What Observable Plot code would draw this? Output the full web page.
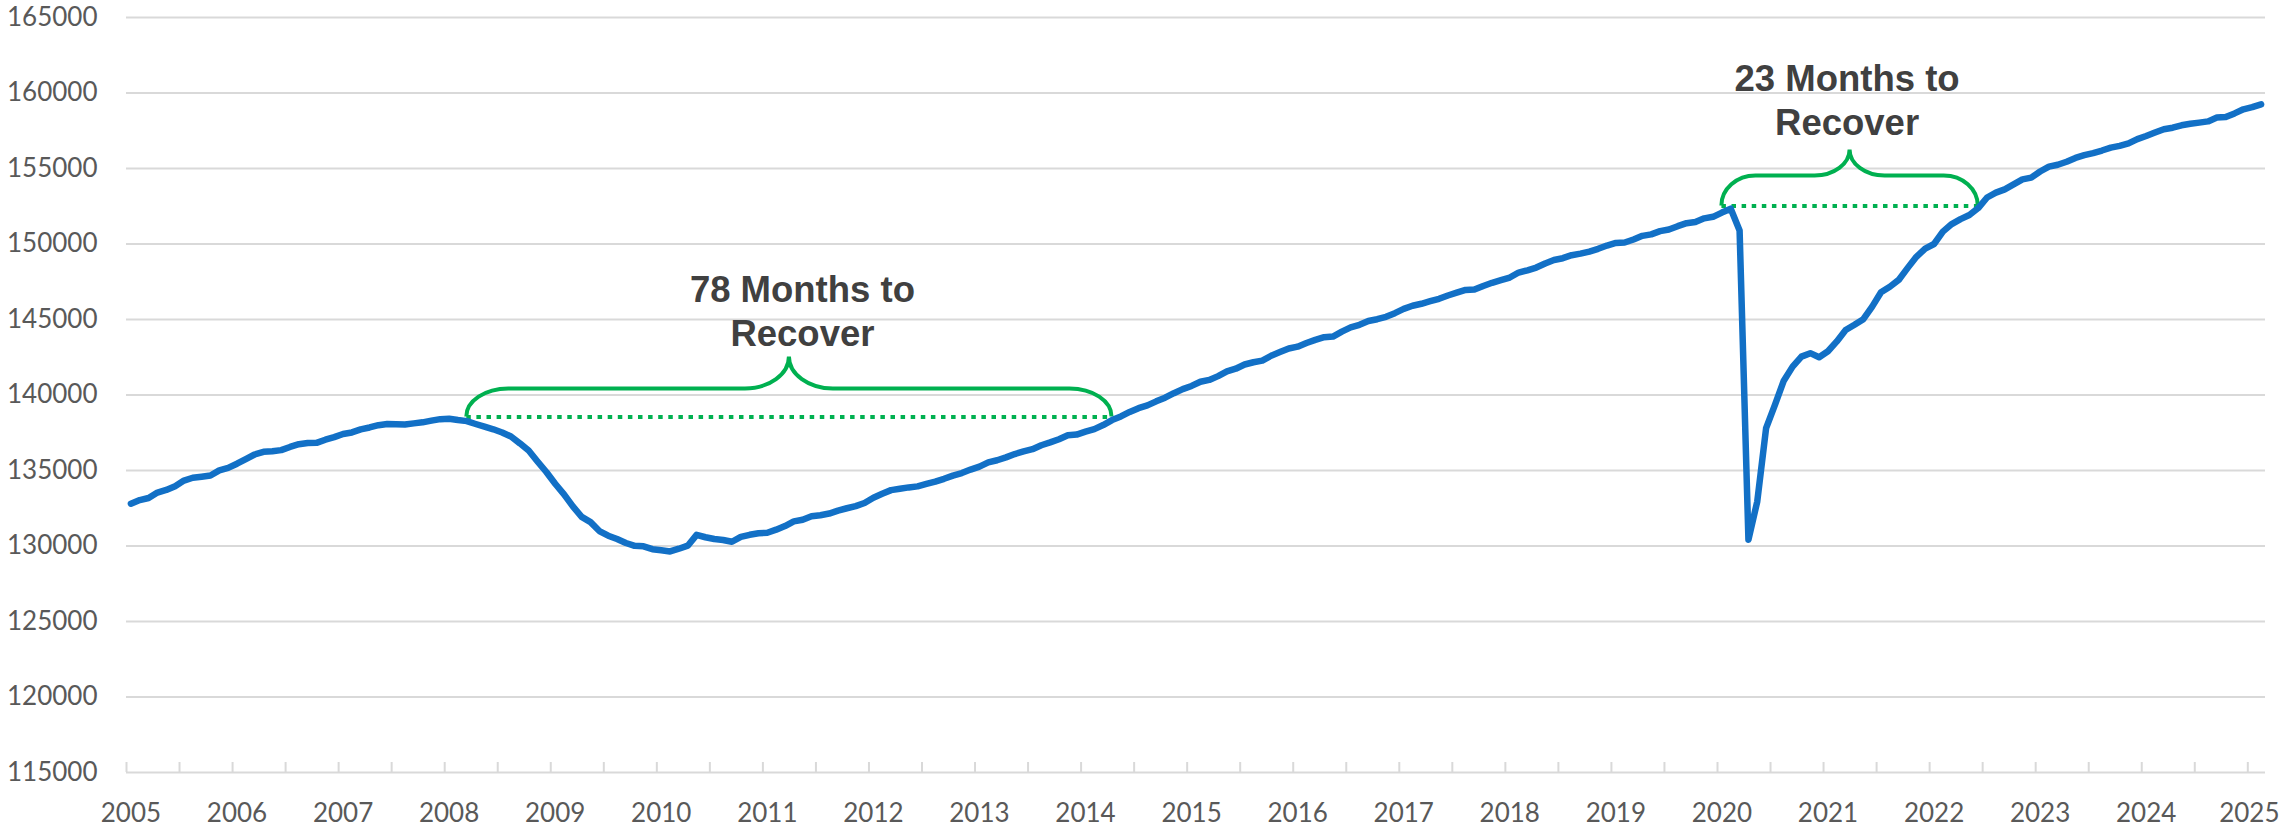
<!DOCTYPE html>
<html>
<head>
<meta charset="utf-8">
<script src="https://cdn.jsdelivr.net/npm/d3@7"></script>
<script src="https://cdn.jsdelivr.net/npm/@observablehq/plot@0.6"></script>
<style>
  html, body { margin: 0; padding: 0; background: #ffffff; }
  #chart svg { display: block; }
</style>
</head>
<body>
<div id="chart"></div>
<script>
// ---------------- DATA ----------------
const startYear = 2005;
const yearLabels = ["2005","2006","2007","2008","2009","2010","2011","2012","2013","2014",
  "2015","2016","2017","2018","2019","2020","2021","2022","2023","2024","2025"];
const yTicks = [115000, 120000, 125000, 130000, 135000, 140000, 145000, 150000, 155000, 160000, 165000];

// Total nonfarm employment (thousands), monthly Jan 2005 – Feb 2025
const employment = [
  132800, 133040, 133180, 133540, 133710, 133960, 134330, 134520, 134590, 134670, 135010, 135170, // 2005
  135450, 135760, 136060, 136240, 136270, 136350, 136560, 136740, 136820, 136830, 137040, 137210, // 2006
  137420, 137520, 137720, 137850, 138000, 138080, 138060, 138050, 138120, 138190, 138300, 138400, // 2007
  138430, 138340, 138270, 138080, 137900, 137730, 137520, 137250, 136800, 136320, 135600, 134900, // 2008
  134120, 133420, 132620, 131930, 131580, 130990, 130680, 130460, 130200, 130010, 129980, 129790, // 2009
  129720, 129640, 129820, 130020, 130740, 130580, 130460, 130400, 130280, 130600, 130740, 130840, // 2010
  130880, 131080, 131320, 131630, 131740, 131970, 132040, 132150, 132340, 132500, 132640, 132850, // 2011
  133200, 133460, 133700, 133790, 133880, 133950, 134110, 134260, 134450, 134660, 134830, 135060, // 2012
  135260, 135540, 135680, 135870, 136090, 136260, 136410, 136670, 136860, 137070, 137330, 137380, // 2013
  137570, 137740, 138010, 138340, 138580, 138880, 139130, 139310, 139580, 139820, 140120, 140390, // 2014
  140600, 140880, 141000, 141250, 141560, 141740, 142020, 142170, 142280, 142600, 142840, 143080, // 2015
  143200, 143440, 143650, 143830, 143870, 144200, 144480, 144650, 144900, 145020, 145180, 145420, // 2016
  145700, 145910, 146040, 146210, 146370, 146590, 146780, 146960, 146980, 147220, 147430, 147600, // 2017
  147780, 148110, 148260, 148440, 148710, 148940, 149060, 149260, 149360, 149500, 149680, 149900, // 2018
  150070, 150100, 150300, 150540, 150640, 150850, 150960, 151180, 151380, 151460, 151700, 151800, // 2019
  152080, 152340, 150900, 130420, 132950, 137800, 139350, 140950, 141880, 142540, 142770, 142500, // 2020
  142900, 143550, 144300, 144650, 145020, 145850, 146800, 147170, 147620, 148400, 149150, 149700, // 2021
  150000, 150820, 151320, 151650, 151920, 152380, 153080, 153400, 153620, 153950, 154280, 154400, // 2022
  154800, 155120, 155250, 155450, 155700, 155880, 156020, 156190, 156380, 156500, 156660, 156950, // 2023
  157150, 157380, 157600, 157700, 157860, 157960, 158040, 158120, 158370, 158410, 158650, 158920, // 2024
  159060, 159250                                                                                  // 2025
];

// Recovery annotations
const recoveryStart = ["2008-03", "2020-01"];
const recoveryEnd   = ["2014-04", "2022-06"];
const recoveryLevel = [138550, 152520];
const recoveryLabel = ["78 Months to\nRecover", "23 Months to\nRecover"];

// ---------------- STYLE ----------------
const BLUE = "#1270C6";
const GREEN = "#00B050";
const GRID = "#d9d9d9";
const AXIS_TEXT = "#595959";
const NOTE_TEXT = "#404040";
// brace shape (pixels): corner radius, corner height, tip radius, tip height, label shift
const braceStyle = [
  {rx: 42, h1: 28, rx2: 44, h2: 32, labelDx: 13},
  {rx: 34, h1: 30, rx2: 35, h2: 26, labelDx: -3}
];

// ---------------- BUILD ----------------
const monthPos = (s) => {
  const [y, m] = s.split("-").map(Number);
  return (y - startYear) * 12 + (m - 1) + 0.5;
};
const nMonths = employment.length;
const series = employment.map((v, i) => ({x: i + 0.5, y: v}));
const recoveries = recoveryStart.map((s, k) => ({
  x1: monthPos(s), x2: monthPos(recoveryEnd[k]), y: recoveryLevel[k], label: recoveryLabel[k], ...braceStyle[k]
}));
const yearTickPos = yearLabels.map((_, k) => k * 12 + 0.5);
const halfYearTicks = d3.range(0, (yearLabels.length - 1) * 12 + 1, 6);

const W = 2280, H = 829, mL = 126, mR = 15, mT = 17, mB = 57;

function braces(index, scales) {
  const sx = scales.x, sy = scales.y;
  const ns = "http://www.w3.org/2000/svg";
  const g = document.createElementNS(ns, "g");
  for (const r of recoveries) {
    const X0 = sx(r.x1), X1 = sx(r.x2), Y = sy(r.y), Xm = (X0 + X1) / 2;
    const Yh = Y - r.h1, Yp = Yh - r.h2;
    const d = `M${X0},${Y} A${r.rx},${r.h1} 0 0 1 ${X0 + r.rx},${Yh}` +
      ` L${Xm - r.rx2},${Yh} A${r.rx2},${r.h2} 0 0 0 ${Xm},${Yp}` +
      ` A${r.rx2},${r.h2} 0 0 0 ${Xm + r.rx2},${Yh}` +
      ` L${X1 - r.rx},${Yh} A${r.rx},${r.h1} 0 0 1 ${X1},${Y}`;
    const p = document.createElementNS(ns, "path");
    p.setAttribute("d", d);
    p.setAttribute("fill", "none");
    p.setAttribute("stroke", GREEN);
    p.setAttribute("stroke-width", 4);
    g.appendChild(p);
  }
  return g;
}

const chart = Plot.plot({
  width: W,
  height: H,
  marginLeft: mL,
  marginRight: mR,
  marginTop: mT,
  marginBottom: mB,
  style: {fontFamily: "Lato, 'Open Sans', sans-serif", fontSize: "26px", color: AXIS_TEXT, background: "#ffffff"},
  x: {type: "linear", domain: [0, nMonths]},
  y: {domain: [115000, 165000]},
  marks: [
    Plot.ruleY(yTicks, {stroke: GRID, strokeWidth: 2}),
    Plot.ruleX(halfYearTicks, {stroke: GRID, strokeWidth: 2, insetTop: (H - mT - mB) - 10}),
    Plot.axisY({ticks: yTicks, tickSize: 0, tickPadding: 29, tickFormat: d => String(d), label: null, fontSize: 26}),
    Plot.axisX({ticks: yearTickPos.slice(0, -1), tickSize: 0, tickPadding: 31,
      tickFormat: d => yearLabels[Math.round((d - 0.5) / 12)], label: null, fontSize: 26}),
    // last year label sits at the right edge, kept inside the picture
    Plot.text([yearLabels[yearLabels.length - 1]], {
      frameAnchor: "bottom-right", text: d => d, textAnchor: "end", lineAnchor: "top",
      dx: 14, dy: 31, fontSize: 26, fill: AXIS_TEXT
    }),
    Plot.ruleY(recoveries, {y: "y", x1: "x1", x2: "x2", stroke: GREEN, strokeWidth: 4, strokeDasharray: "4.5,5.6"}),
    braces,
    Plot.line(series, {x: "x", y: "y", stroke: BLUE, strokeWidth: 6.5, strokeLinejoin: "round", strokeLinecap: "round"}),
    ...recoveries.map(r => Plot.text([r], {
      x: d => (d.x1 + d.x2) / 2, y: "y", text: "label",
      dx: r.labelDx, dy: -146, lineAnchor: "top", lineHeight: 1.205,
      fontFamily: "'Liberation Sans', Arial, sans-serif", fontWeight: "bold", fontSize: 36.5,
      fill: NOTE_TEXT
    }))
  ]
});
document.getElementById("chart").appendChild(chart);
</script>
</body>
</html>
